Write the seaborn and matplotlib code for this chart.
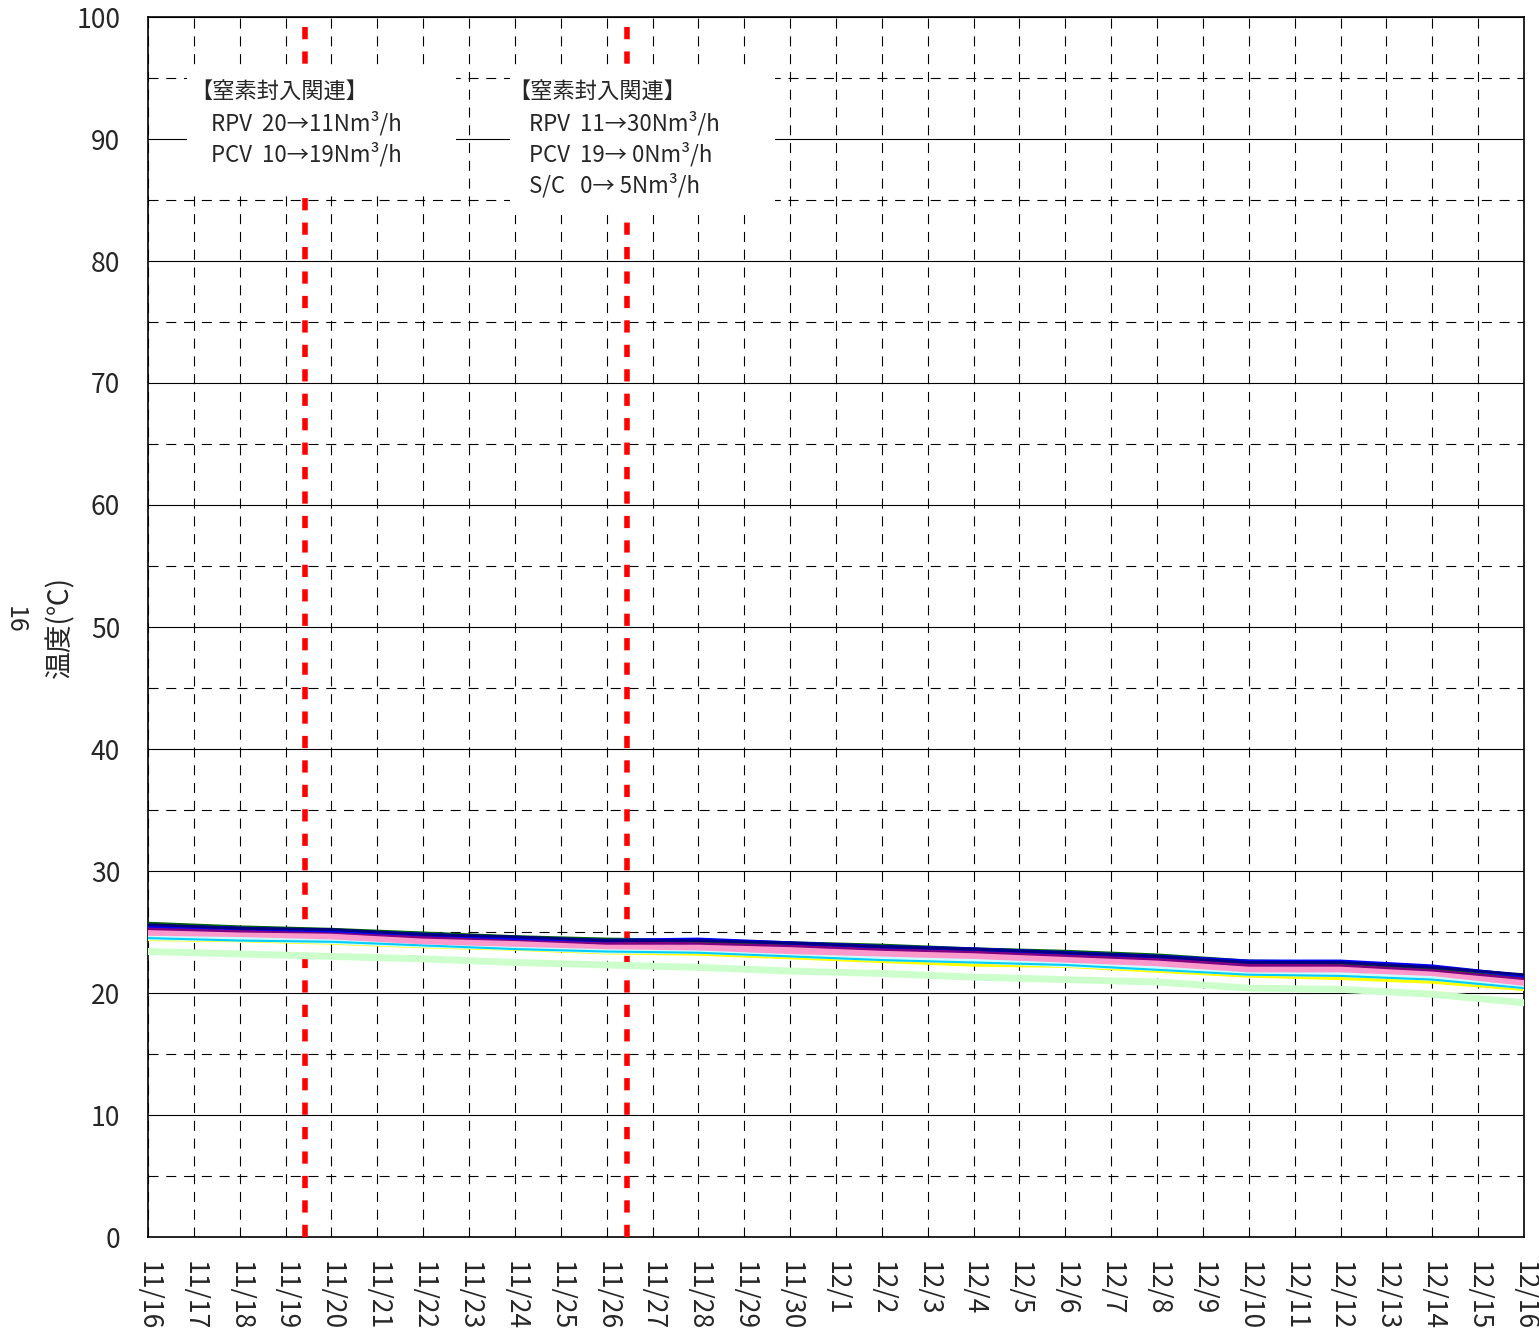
import matplotlib
matplotlib.use("Agg")
import matplotlib.pyplot as plt
import matplotlib.dates as mdates
from matplotlib.patches import Rectangle
from matplotlib.ticker import MultipleLocator
import numpy as np
import pandas as pd
import seaborn as sns

# ================================
# data (every 2 days, 11/16 .. 12/16)
# ================================
dates = pd.date_range("2011-11-16", "2011-12-16", freq="2D")

lightgreen = [23.4, 23.2, 23.0, 22.8, 22.5, 22.3, 22.1, 21.8, 21.6, 21.3, 21.1, 20.9, 20.4, 20.3, 19.9, 19.2]
yellow = [24.4, 24.3, 24.1, 23.8, 23.6, 23.3, 23.2, 22.9, 22.6, 22.3, 22.2, 21.8, 21.4, 21.2, 20.9, 20.3]
lightcyan = [24.6, 24.5, 24.3, 24.0, 23.8, 23.5, 23.5, 23.2, 22.9, 22.7, 22.4, 22.1, 21.7, 21.6, 21.3, 20.6]
cyan = [24.5, 24.3, 24.2, 23.9, 23.6, 23.4, 23.3, 23.0, 22.7, 22.5, 22.3, 21.9, 21.5, 21.4, 21.1, 20.4]
pink = [25.0, 24.9, 24.7, 24.3, 24.1, 23.9, 23.8, 23.5, 23.3, 23.1, 22.8, 22.5, 22.0, 22.0, 21.7, 20.9]
purple = [25.3, 25.1, 25.0, 24.6, 24.4, 24.1, 24.1, 23.9, 23.6, 23.4, 23.1, 22.8, 22.3, 22.3, 21.9, 21.2]
green = [25.7, 25.4, 25.2, 24.9, 24.6, 24.4, 24.3, 24.1, 23.9, 23.6, 23.4, 23.1, 22.6, 22.5, 22.1, 21.4]
blue = [25.5, 25.3, 25.1, 24.8, 24.5, 24.3, 24.4, 24.1, 23.8, 23.6, 23.3, 23.0, 22.6, 22.6, 22.2, 21.4]
navy = [25.6, 25.3, 25.2, 24.8, 24.6, 24.3, 24.3, 24.1, 23.8, 23.6, 23.3, 23.0, 22.5, 22.5, 22.1, 21.5]

events = pd.to_datetime(["2011-11-19 10:00", "2011-11-26 10:30"])
box1_lines = ["【窒素封入関連】", "RPV  20→11Nm³/h", "PCV  10→19Nm³/h"]
box2_lines = ["【窒素封入関連】", "RPV  11→30Nm³/h", "PCV  19→ 0Nm³/h", "S/C   0→ 5Nm³/h"]

series = [
    ("lightgreen", lightgreen, "#CCFFCC", 5.0),
    ("yellow", yellow, "#FFFF00", 2.5),
    ("lightcyan", lightcyan, "#CCFFFF", 5.0),
    ("cyan", cyan, "#00CCFF", 1.5),
    ("pink", pink, "#FF99CC", 5.5),
    ("purple", purple, "#800080", 2.5),
    ("green", green, "#006400", 2.5),
    ("blue", blue, "#0000FF", 2.5),
    ("navy", navy, "#000080", 2.0),
]

sns.set_style("white")
plt.rcParams["font.family"] = ["Noto Sans CJK JP", "DejaVu Sans"]

fig = plt.figure(figsize=(15.39, 13.43), dpi=100)
ax = fig.add_axes([148 / 1539, 106 / 1343, 1376 / 1539, 1220 / 1343])

for name, vals, col, lw in series:
    df = pd.DataFrame({"date": dates, "temp": vals})
    sns.lineplot(data=df, x="date", y="temp", color=col, linewidth=lw, ax=ax, zorder=5)

for ev in events:
    ax.axvline(ev, color="#FF0000", linewidth=4, linestyle=(0, (2.2, 2.2)), zorder=4)

ax.set_xlim(pd.Timestamp("2011-11-16"), pd.Timestamp("2011-12-16"))
ax.set_ylim(0, 100)
ax.yaxis.set_major_locator(MultipleLocator(10))
ax.yaxis.set_minor_locator(MultipleLocator(5))
ax.xaxis.set_major_locator(mdates.DayLocator())
ax.xaxis.set_major_formatter(
    plt.FuncFormatter(lambda v, p: "{}/{}".format(mdates.num2date(v).month, mdates.num2date(v).day))
)

ax.grid(which="major", axis="y", color="black", linewidth=0.8, linestyle="-", zorder=1)
ax.grid(which="minor", axis="y", color="black", linewidth=0.8, linestyle=(0, (9, 7)), zorder=1)
ax.grid(which="major", axis="x", color="black", linewidth=0.8, linestyle=(0, (9, 7)), zorder=1)
ax.set_axisbelow(True)

ax.tick_params(axis="x", direction="in", length=7, width=1, labelsize=19, rotation=-90, pad=17)
ax.tick_params(axis="y", which="both", length=0, labelsize=19, pad=20)
for lab in ax.get_xticklabels():
    lab.set_verticalalignment("top")
for sp in ax.spines.values():
    sp.set_color("black")
    sp.set_linewidth(1.2)

ax.set_xlabel("")
ax.set_ylabel("温度(℃)", fontsize=20)
ax.yaxis.set_label_coords(-0.053, 0.5)

# white boxes with the nitrogen notes
d0 = mdates.date2num(pd.Timestamp("2011-11-16"))
ax.add_patch(Rectangle((d0 + 0.85, 85.3), 5.86, 10.4, facecolor="white", edgecolor="none", zorder=6))
ax.add_patch(Rectangle((d0 + 7.89, 83.8), 5.78, 11.9, facecolor="white", edgecolor="none", zorder=6))

ax.text(d0 + 0.92, 93.85, box1_lines[0], fontsize=16, va="center", ha="left", zorder=7)
for i, t in enumerate(box1_lines[1:]):
    ax.text(d0 + 1.38, 91.3 - 2.55 * i, t, fontsize=16, va="center", ha="left", zorder=7)
ax.text(d0 + 7.85, 93.85, box2_lines[0], fontsize=16, va="center", ha="left", zorder=7)
for i, t in enumerate(box2_lines[1:]):
    ax.text(d0 + 8.3, 91.3 - 2.55 * i, t, fontsize=16, va="center", ha="left", zorder=7)

fig.text(15 / 1539, 1 - 620 / 1343, "16", rotation=-90, fontsize=18, ha="center", va="center")

fig.savefig("out.png", dpi=100)
